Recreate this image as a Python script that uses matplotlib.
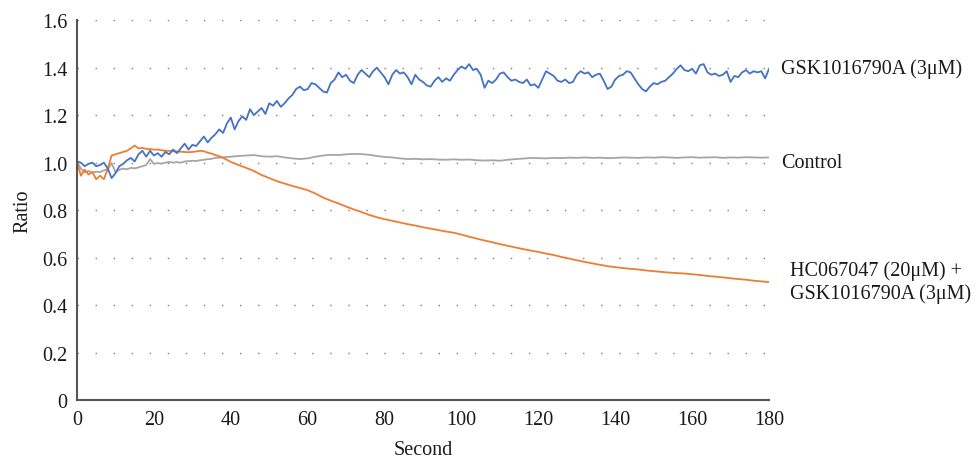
import numpy as np
import matplotlib
matplotlib.use("Agg")
import matplotlib.pyplot as plt

# time axes (seconds)
blue_t = list(range(0, 181))
fine_t = list(range(0, 40)) + list(range(40, 181, 2))

# GSK1016790A (3uM)
gsk = [
    1.005, 1.0, 0.985, 0.995, 1.0, 0.985, 0.99, 1.0, 0.975, 0.935,
    0.955, 0.985, 0.995, 1.01, 1.02, 1.005, 1.035, 1.05, 1.025, 1.05,
    1.03, 1.04, 1.025, 1.045, 1.035, 1.055, 1.04, 1.06, 1.08, 1.055,
    1.075, 1.07, 1.09, 1.11, 1.085, 1.105, 1.12, 1.14, 1.125, 1.165,
    1.19, 1.14, 1.175, 1.195, 1.18, 1.225, 1.2, 1.215, 1.23, 1.205,
    1.25, 1.24, 1.26, 1.235, 1.25, 1.27, 1.285, 1.31, 1.32, 1.305,
    1.31, 1.335, 1.33, 1.315, 1.3, 1.295, 1.335, 1.35, 1.38, 1.36,
    1.37, 1.345, 1.335, 1.37, 1.39, 1.375, 1.36, 1.385, 1.40, 1.38,
    1.36, 1.33, 1.37, 1.39, 1.375, 1.38, 1.36, 1.33, 1.37, 1.35,
    1.34, 1.325, 1.32, 1.345, 1.36, 1.34, 1.355, 1.345, 1.37, 1.39,
    1.405, 1.395, 1.415, 1.39, 1.395, 1.37, 1.315, 1.345, 1.335, 1.35,
    1.375, 1.38, 1.36, 1.345, 1.35, 1.34, 1.335, 1.35, 1.325, 1.33,
    1.315, 1.35, 1.385, 1.375, 1.365, 1.345, 1.34, 1.35, 1.335, 1.34,
    1.37, 1.385, 1.375, 1.38, 1.36, 1.37, 1.375, 1.345, 1.31, 1.32,
    1.35, 1.365, 1.37, 1.385, 1.38, 1.355, 1.33, 1.31, 1.30, 1.32,
    1.335, 1.33, 1.34, 1.345, 1.36, 1.375, 1.395, 1.41, 1.39, 1.385,
    1.395, 1.375, 1.41, 1.415, 1.38, 1.37, 1.375, 1.365, 1.37, 1.385,
    1.34, 1.365, 1.36, 1.38, 1.39, 1.375, 1.385, 1.38, 1.385, 1.355,
    1.395,
]

control = [
    1.005, 0.975, 0.96, 0.965, 0.958, 0.962, 0.96, 0.968, 0.972, 0.998,
    0.96, 0.97, 0.975, 0.972, 0.978, 0.976, 0.98, 0.985, 0.99, 1.015,
    0.995, 0.998, 0.996, 1.0, 1.003, 1.0, 1.002, 1.0, 1.005, 1.006,
    1.008, 1.007, 1.01, 1.012, 1.015, 1.016, 1.02, 1.021, 1.022, 1.024,
    # from 40 s, every 2 s
    1.025, 1.028, 1.03, 1.032, 1.027, 1.025, 1.027, 1.022, 1.018, 1.015,
    1.018, 1.025, 1.03, 1.033, 1.032, 1.035, 1.037, 1.036, 1.033, 1.028,
    1.024, 1.022, 1.018, 1.015, 1.016, 1.014, 1.015, 1.013, 1.012, 1.014,
    1.012, 1.013, 1.01, 1.009, 1.01, 1.008, 1.012, 1.015, 1.017, 1.02,
    1.019, 1.018, 1.02, 1.019, 1.021, 1.02, 1.022, 1.02, 1.021, 1.019,
    1.02, 1.022, 1.021, 1.02, 1.022, 1.021, 1.023, 1.022, 1.02, 1.022,
    1.023, 1.021, 1.022, 1.023, 1.02, 1.022, 1.021, 1.023, 1.022, 1.021,
    1.022,
]

hc_gsk = [
    1.005, 0.945, 0.97, 0.95, 0.96, 0.93, 0.945, 0.93, 0.975, 1.03,
    1.035, 1.04, 1.045, 1.05, 1.06, 1.072, 1.06, 1.062, 1.058, 1.057,
    1.055, 1.055, 1.052, 1.05, 1.05, 1.048, 1.047, 1.046, 1.045, 1.044,
    1.045, 1.047, 1.05, 1.048, 1.042, 1.038, 1.032, 1.027, 1.02, 1.012,
    # from 40 s, every 2 s
    1.003, 0.99, 0.978, 0.965, 0.948, 0.935, 0.922, 0.912, 0.902, 0.893,
    0.884, 0.87, 0.853, 0.84, 0.828, 0.815, 0.803, 0.792, 0.78, 0.77,
    0.762, 0.755, 0.748, 0.741, 0.735, 0.728, 0.722, 0.716, 0.71, 0.705,
    0.697, 0.688, 0.68, 0.672, 0.665, 0.657, 0.65, 0.643, 0.636, 0.63,
    0.624, 0.617, 0.611, 0.603, 0.596, 0.589, 0.582, 0.576, 0.57, 0.564,
    0.56, 0.556, 0.553, 0.55, 0.546, 0.543, 0.54, 0.537, 0.535, 0.533,
    0.53, 0.527, 0.523, 0.52, 0.517, 0.513, 0.51, 0.507, 0.503, 0.5,
    0.497,
]

x_ticks = list(range(0, 181, 20))
y_ticks = [0, 0.2, 0.4, 0.6, 0.8, 1.0, 1.2, 1.4, 1.6]
y_tick_labels = ["0", "0.2", "0.4", "0.6", "0.8", "1.0", "1.2", "1.4", "1.6"]

plt.rcParams['font.family'] = ['Liberation Serif', 'DejaVu Serif']
FS = 14.5
TXT = '#1a1a1a'

fig = plt.figure(figsize=(9.76, 4.6), dpi=100)
ax = fig.add_axes([0.0789, 0.128, 0.709, 0.826])

# dotted gridlines
for yv in y_ticks[1:]:
    ax.axhline(yv, color='#7f7f7f', lw=1.0, linestyle=(0, (1, 12)), zorder=0)

ax.plot(fine_t, control, color='#A5A5A5', lw=1.3)
ax.plot(fine_t, hc_gsk, color='#ED7D31', lw=1.3)
ax.plot(blue_t, gsk, color='#4472C4', lw=1.3)

ax.set_xlim(0, 180)
ax.set_ylim(0, 1.6)
ax.set_xticks(x_ticks)
ax.set_yticks(y_ticks)
ax.set_yticklabels(y_tick_labels)
ax.tick_params(length=0, labelsize=FS, colors=TXT, pad=7)

for s in ['top', 'right']:
    ax.spines[s].set_visible(False)
for s in ['left', 'bottom']:
    ax.spines[s].set_color('#555555')
    ax.spines[s].set_linewidth(1.5)

ax.set_xlabel("Second", fontsize=FS, color=TXT, labelpad=8)
ax.set_ylabel("Ratio", fontsize=FS, color=TXT, labelpad=7)

ax.text(183.1, 1.4, "GSK1016790A (3μM)", fontsize=FS, color=TXT,
        va='center', ha='left', clip_on=False)
ax.text(183.1, 1.0, "Control", fontsize=FS, color=TXT,
        va='center', ha='left', clip_on=False)
ax.text(185.5, 0.50, "HC067047 (20μM) +\nGSK1016790A (3μM)", fontsize=FS,
        color=TXT, va='center', ha='left', multialignment='left',
        clip_on=False, linespacing=1.25)

fig.savefig("out.png", dpi=100)
